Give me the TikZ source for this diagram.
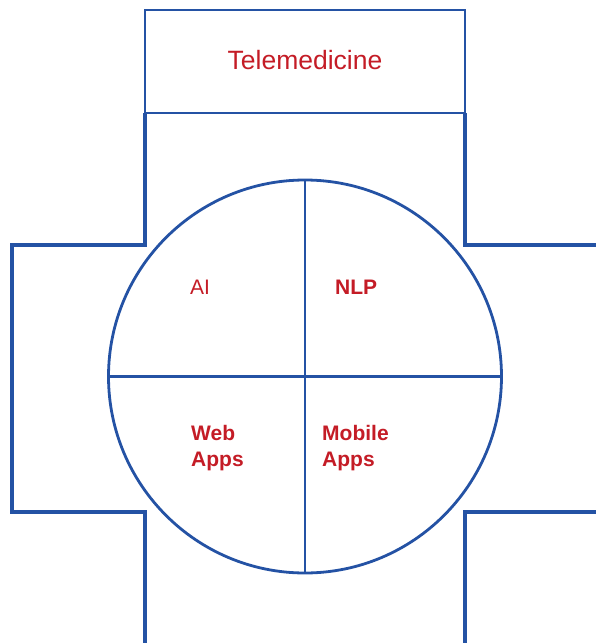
\documentclass[tikz,border=0pt]{standalone}
\usepackage{fontspec}
\setmainfont{Liberation Sans}
\definecolor{crossblue}{RGB}{36,82,164}
\definecolor{labelred}{RGB}{196,28,38}
\tikzset{
    quad/.style={anchor=west,text=labelred,font=\fontsize{21}{26}\selectfont,align=left,inner sep=0pt},
    quadbf/.style={quad,font=\fontsize{21}{26}\selectfont\bfseries},
}
\begin{document}
\begin{tikzpicture}[x=1pt,y=-1pt,line join=miter]
    \useasboundingbox (0,0) rectangle (596,643);
    % title box
    \draw[crossblue,line width=2.8pt] (145,10) rectangle (465,113);
    \node[text=labelred,font=\fontsize{26.5}{30}\selectfont] (tele) at (305,60) {Telemedicine};
    % cross outline
    \draw[crossblue,line width=3.6pt]
        (145,113) -- (145,245) -- (12,245) -- (12,512) -- (145,512) -- (145,643);
    \draw[crossblue,line width=3.6pt]
        (465,113) -- (465,245) -- (596,245)
        (596,512) -- (465,512) -- (465,643);
    % circle and quadrants
    \draw[crossblue,line width=2.8pt] (305,376.5) circle (196.5pt);
    \draw[crossblue,line width=2.8pt]
        (305,180) -- (305,573)
        (108.5,376.5) -- (501.5,376.5);
    \node[quad] (ai) at (190,287) {AI};
    \node[quadbf] (nlp) at (335,287) {NLP};
    \node[quadbf] (web) at (191,448) {Web\\Apps};
    \node[quadbf] (mobile) at (322,448) {Mobile\\Apps};
\end{tikzpicture}
\end{document}
